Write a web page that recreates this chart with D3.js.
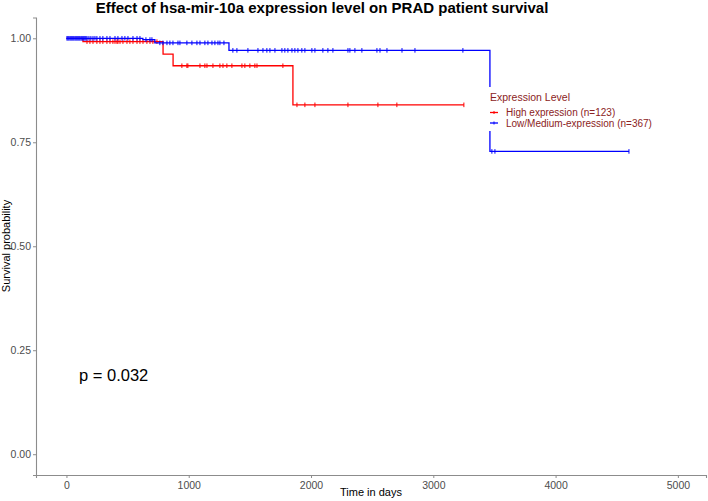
<!DOCTYPE html>
<html>
<head>
<meta charset="utf-8">
<script src="https://cdn.jsdelivr.net/npm/d3@7"></script>
<style>
  body { margin: 0; background: #fff; }
  svg { font-family: "Liberation Sans", Arial, sans-serif; }
</style>
</head>
<body>
<svg id="chart"></svg>
<script>
const width = 708;
const height = 501;

// step curves: time points (days) and survival after each point
const highTimes = [0, 135, 790, 872, 1852, 3250];
const highSurv = [1.0, 0.992, 0.962, 0.934, 0.840, 0.840];
const highCensor = [168, 192, 217, 249, 274, 298, 331, 356, 380, 397, 413, 421, 438, 462, 495, 519, 544, 577, 601, 626, 658, 683, 707, 740,
  944, 985, 993, 1092, 1132, 1149, 1198, 1255, 1280, 1312, 1353, 1435, 1459, 1500, 1541, 1558, 1770,
  1885, 1950, 2032, 2302, 2547, 2702, 3250];

const lowTimes = [0, 625, 723, 1329, 3463, 4600];
const lowSurv = [1.0, 0.997, 0.989, 0.971, 0.728, 0.728];
const lowCensor = [4, 12, 20, 29, 37, 45, 53, 61, 70, 78, 86, 94, 102, 110, 119, 127, 135, 143, 151, 159, 168, 184, 200, 217, 233, 249,
  274, 298, 331, 356, 397, 421, 454, 478, 503, 544, 577, 601,
  650, 683, 699,
  764, 789, 822, 846, 871, 912, 928, 985, 1026, 1067, 1092, 1132, 1157, 1190, 1214, 1239, 1255, 1288,
  1361, 1394, 1484, 1566, 1607, 1639, 1664, 1705, 1762, 1786, 1811, 1844, 1868, 1893, 1925, 1950, 2007, 2032, 2097, 2138, 2179,
  2302, 2318, 2359, 2416, 2539, 2564, 2621, 2744, 2850, 3242,
  3479, 3504, 4600];

const xTicks = [0, 1000, 2000, 3000, 4000, 5000];
const yTicks = [0, 0.25, 0.5, 0.75, 1];
const groupNames = ["High expression (n=123)", "Low/Medium-expression (n=367)"];
const groupColors = ["#ff0000", "#0000ff"];

const svg = d3.select("#chart").attr("width", width).attr("height", height);

const x = d3.scaleLinear().domain([-249, 5230]).range([36, 706]);
const y = d3.scaleLinear().domain([-0.05, 1.05]).range([475, 17.5]);

// axes
const xAxis = d3.axisBottom(x).tickValues(xTicks).tickSize(3).tickPadding(4).tickFormat(d3.format("d"));
const yAxis = d3.axisLeft(y).tickValues(yTicks).tickSize(3).tickPadding(2).tickFormat(d3.format(".2f"));

const gx = svg.append("g").attr("transform", "translate(0,475)").call(xAxis);
const gy = svg.append("g").attr("transform", "translate(36,0)").call(yAxis);
[gx, gy].forEach(g => {
  g.select(".domain").attr("stroke", "#8c8c8c").attr("stroke-width", 1.1);
  g.selectAll(".tick line").attr("stroke", "#8c8c8c");
  g.selectAll(".tick text").attr("fill", "#4d4d4d").style("font-size", "10.5px")
    .style("font-family", "'Liberation Sans', Arial, sans-serif");
});

// curves
const line = d3.line().x(d => x(d[0])).y(d => y(d[1])).curve(d3.curveStepAfter);

function drawGroup(times, surv, censor, color) {
  const pts = times.map((t, i) => [t, surv[i]]);
  svg.append("path").datum(pts)
    .attr("fill", "none").attr("stroke", color).attr("stroke-width", 1.3)
    .attr("d", line);

  const survAt = t => {
    let s = surv[0];
    times.forEach((tt, i) => { if (tt <= t) s = surv[i]; });
    return s;
  };
  svg.append("g").selectAll("line").data(censor).enter().append("line")
    .attr("x1", d => x(d)).attr("x2", d => x(d))
    .attr("y1", d => y(survAt(d)) - 2.3).attr("y2", d => y(survAt(d)) + 2.3)
    .attr("stroke", color).attr("stroke-width", 1);
}

drawGroup(highTimes, highSurv, highCensor, groupColors[0]);
drawGroup(lowTimes, lowSurv, lowCensor, groupColors[1]);

// title
svg.append("text").attr("x", 322).attr("y", 13).attr("text-anchor", "middle")
  .style("font-size", "15px").style("font-weight", "bold").attr("fill", "#000")
  .text("Effect of hsa-mir-10a expression level on PRAD patient survival");

// axis titles
svg.append("text").attr("x", 371).attr("y", 496).attr("text-anchor", "middle")
  .style("font-size", "11px").attr("fill", "#000").text("Time in days");
svg.append("text").attr("transform", "translate(10,246) rotate(-90)").attr("text-anchor", "middle")
  .style("font-size", "11px").attr("fill", "#000").text("Survival probability");

// p value
svg.append("text").attr("x", 79).attr("y", 381)
  .style("font-size", "16.5px").attr("fill", "#000").text("p = 0.032");

// legend (white box hides the curve behind it)
const legend = svg.append("g").attr("transform", "translate(490,0)");
legend.append("rect").attr("x", -4).attr("y", 87).attr("width", 172).attr("height", 44).attr("fill", "#fff");
legend.append("text").attr("x", 0).attr("y", 101)
  .style("font-size", "10.5px").attr("fill", "#8b2323").text("Expression Level");
const items = legend.selectAll("g.item").data(groupNames).enter().append("g")
  .attr("class", "item").attr("transform", (d, i) => `translate(0,${112.5 + i * 10.5})`);
items.append("line").attr("x1", 0).attr("x2", 8).attr("y1", 0).attr("y2", 0)
  .attr("stroke", (d, i) => groupColors[i]).attr("stroke-width", 1.3);
items.append("line").attr("x1", 4).attr("x2", 4).attr("y1", -1.5).attr("y2", 1.5)
  .attr("stroke", (d, i) => groupColors[i]).attr("stroke-width", 1);
items.append("text").attr("x", 16).attr("y", 3.6)
  .style("font-size", "10px").attr("fill", "#8b2323").text(d => d);
</script>
</body>
</html>
